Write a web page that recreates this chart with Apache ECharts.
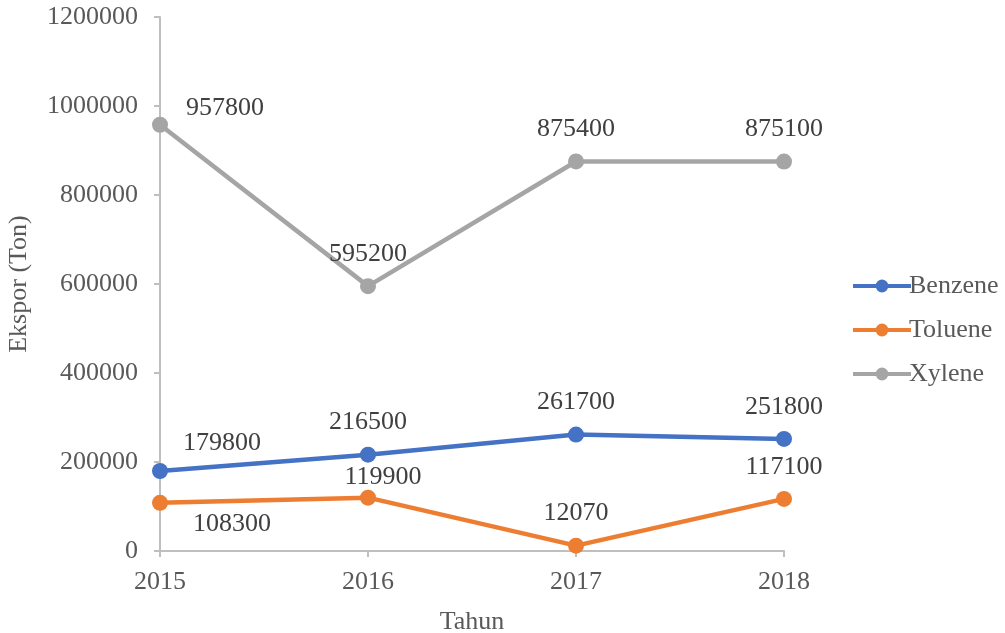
<!DOCTYPE html>
<html>
<head>
<meta charset="utf-8">
<script src="https://cdn.jsdelivr.net/npm/echarts@6/dist/echarts.min.js"></script>
<style>
  html, body { margin: 0; padding: 0; background: #fff; }
  #chart { width: 1005px; height: 633px; }
</style>
</head>
<body>
<div id="chart"></div>
<script>
// Export volume per year (tons)
const years = ['2015', '2016', '2017', '2018'];
const benzene = [179800, 216500, 261700, 251800];
const toluene = [108300, 119900, 12070, 117100];
const xylene = [957800, 595200, 875400, 875100];

// Per-point label nudges [dx, dy] where the default (above) placement collides
const benzeneOffsets = [[62, 4], [0, 0], [0, 0], [0, 0]];
const tolueneOffsets = [[72, 53], [15, 12], [0, 0], [0, 0]];
const xyleneOffsets = [[65, 15], [0, 0], [0, 0], [0, 0]];

const FONT = '"Liberation Serif", "Times New Roman", serif';
const FS = 26;

function points(values, offsets) {
  return values.map((v, i) => ({
    value: v,
    label: { offset: offsets[i] }
  }));
}

function lineSeries(name, color, values, offsets) {
  return {
    name: name,
    type: 'line',
    data: points(values, offsets),
    symbol: 'circle',
    symbolSize: 16,
    lineStyle: { color: color, width: 4.5 },
    itemStyle: { color: color },
    label: {
      show: true,
      position: 'top',
      distance: 11,
      color: '#404040',
      fontFamily: FONT,
      fontSize: FS
    },
    animation: false
  };
}

const chart = echarts.init(document.getElementById('chart'));
chart.setOption({
  backgroundColor: '#ffffff',
  textStyle: { fontFamily: FONT },
  grid: { left: 160, right: 221, top: 17, bottom: 82, containLabel: false, outerBoundsMode: 'none' },
  legend: {
    orient: 'vertical',
    left: 846,
    top: 268,
    itemWidth: 58,
    itemHeight: 16,
    itemGap: 18,
    lineStyle: { width: 4 },
    textStyle: { color: '#595959', fontFamily: FONT, fontSize: FS, padding: [0, 0, 0, -7] },
    data: ['Benzene', 'Toluene', 'Xylene']
  },
  xAxis: {
    type: 'category',
    data: years,
    boundaryGap: false,
    name: 'Tahun',
    nameLocation: 'middle',
    nameGap: 58,
    nameTextStyle: { color: '#595959', fontFamily: FONT, fontSize: FS },
    axisLine: { lineStyle: { color: '#BFBFBF', width: 2 } },
    axisTick: { show: true, alignWithLabel: true, length: 6, lineStyle: { color: '#BFBFBF', width: 2 } },
    axisLabel: { color: '#595959', fontFamily: FONT, fontSize: FS, margin: 18 },
    splitLine: { show: false }
  },
  yAxis: {
    type: 'value',
    min: 0,
    max: 1200000,
    interval: 200000,
    name: 'Ekspor (Ton)',
    nameLocation: 'middle',
    nameGap: 128,
    nameTextStyle: { color: '#595959', fontFamily: FONT, fontSize: FS },
    axisLine: { show: true, lineStyle: { color: '#BFBFBF', width: 2 } },
    axisTick: { show: true, length: 6, lineStyle: { color: '#BFBFBF', width: 2 } },
    axisLabel: { color: '#595959', fontFamily: FONT, fontSize: FS, margin: 22, formatter: v => String(v) },
    splitLine: { show: false }
  },
  series: [
    lineSeries('Benzene', '#4472C4', benzene, benzeneOffsets),
    lineSeries('Toluene', '#ED7D31', toluene, tolueneOffsets),
    lineSeries('Xylene', '#A5A5A5', xylene, xyleneOffsets)
  ]
});
</script>
</body>
</html>
